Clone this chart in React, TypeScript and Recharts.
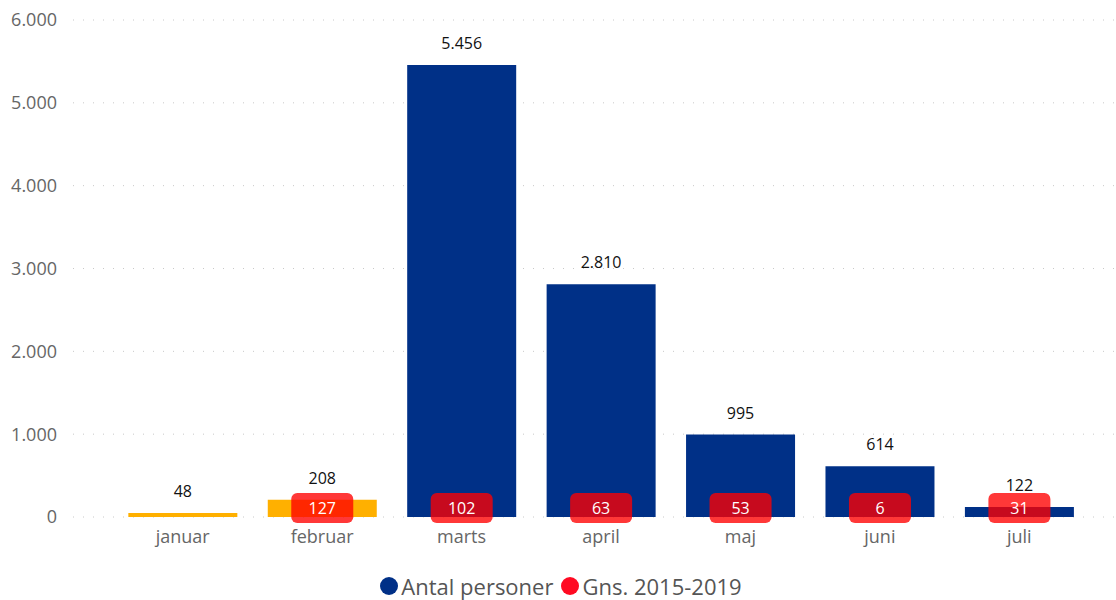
import React from "react";
import { BarChart, Bar, XAxis, YAxis, CartesianGrid, LabelList, Legend, Cell } from "recharts";

const months = ["januar", "februar", "marts", "april", "maj", "juni", "juli"];
const antalPersoner = [48, 208, 5456, 2810, 995, 614, 122];
const gns20152019 = [null, 127, 102, 63, 53, 6, 31];
const yTicks = [0, 1000, 2000, 3000, 4000, 5000, 6000];

const data = months.map((m, i) => ({ month: m, antal: antalPersoner[i], gns: gns20152019[i] }));

const NAVY = "#003087";
const ORANGE = "#FFB000";
const RED = "#FF0000";
const FONT = "'Segoe UI', 'Open Sans', sans-serif";

// januar + februar are drawn in orange
const highlighted = new Set(["januar", "februar"]);

const fmt = (v: number) => String(v).replace(/\B(?=(\d{3})+(?!\d))/g, ".");

function GnsLabel(props: any) {
  const { x, y, width, height, value } = props;
  if (value == null) return null;
  const cx = x + width / 2;
  const base = y + height;
  return (
    <g>
      <rect x={cx - 31} y={base - 24} width={62} height={30} rx={6} fill={RED} fillOpacity={0.78} />
      <text x={cx} y={base - 9} textAnchor="middle" dominantBaseline="central" fill="#fff" fontSize={16} fontFamily={FONT}>
        {value}
      </text>
    </g>
  );
}

function LegendContent() {
  const item = (color: string, label: string) => (
    <span style={{ display: "inline-flex", alignItems: "center", marginRight: 8 }}>
      <span style={{ width: 18, height: 18, borderRadius: 9, background: color, display: "inline-block", marginRight: 3 }} />
      <span>{label}</span>
    </span>
  );
  return (
    <div style={{ height: 53, paddingTop: 26, boxSizing: "border-box", textAlign: "center", fontFamily: FONT, fontSize: 22, color: "#555", lineHeight: "26px", paddingLeft: 14 }}>
      {item(NAVY, "Antal personer")}
      {item("#FF0A22", "Gns. 2015-2019")}
    </div>
  );
}

export default function App() {
  return (
    <div style={{ position: "absolute", left: 0, top: 0, width: 1116, height: 600, background: "#fff" }}>
      <BarChart width={1116} height={600} data={data} margin={{ top: 20, right: 0, bottom: 0, left: 0 }} barCategoryGap="11%">
        <CartesianGrid vertical={false} stroke="#c8c8c8" strokeDasharray="1 9" />
        <XAxis
          dataKey="month"
          axisLine={false}
          tickLine={false}
          height={30}
          padding={{ left: 40, right: 27 }}
          tick={{ fill: "#666", fontSize: 18, fontFamily: FONT }}
          tickMargin={7}
        />
        <YAxis
          domain={[0, 6000]}
          ticks={yTicks}
          width={73}
          axisLine={false}
          tickLine={false}
          tickMargin={10}
          tickFormatter={fmt}
          tick={{ fill: "#666", fontSize: 18, fontFamily: FONT }}
        />
        <Legend verticalAlign="bottom" content={<LegendContent />} />
        <Bar dataKey="antal" fill={NAVY} isAnimationActive={false}>
          {data.map((d) => (
            <Cell key={d.month} fill={highlighted.has(d.month) ? ORANGE : NAVY} />
          ))}
          <LabelList dataKey="antal" position="top" offset={16} formatter={(v: any) => fmt(Number(v))} style={{ fill: "#111", fontSize: 16, fontFamily: FONT }} />
          <LabelList dataKey="gns" content={<GnsLabel />} />
        </Bar>
      </BarChart>
    </div>
  );
}
